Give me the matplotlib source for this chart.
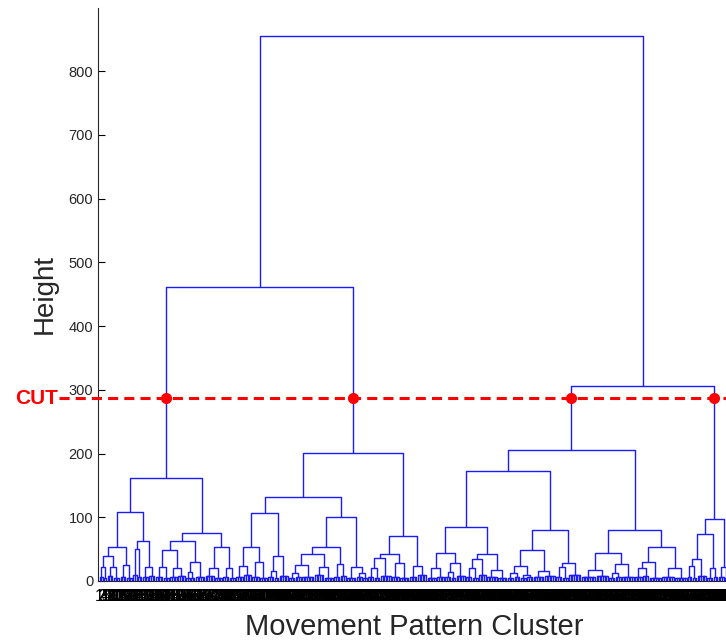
import matplotlib
matplotlib.use("Agg")
import matplotlib.pyplot as plt
from matplotlib.collections import LineCollection

plt.rcParams['font.family'] = ['Liberation Sans', 'DejaVu Sans']

# leaf bundles: (merge height, number of leaves) -- tiny merges near the bottom
# typed tree nodes: [height, left, right]
b1 = [22, (6, 3), (4, 2)]
b2 = [22, (8, 4), (5, 4)]
b3 = [25, (7, 4), (5, 4)]
b4 = [50, (9, 3), (6, 3)]
b5 = [22, (6, 4), (8, 4)]
b6 = [22, (7, 5), (5, 4)]
b7 = [20, (6, 5), (8, 5)]
b8 = [30, [14, (5, 3), (4, 3)], (7, 6)]
b9 = [20, (8, 6), (5, 5)]
b10 = [20, (6, 4), (4, 4)]
b11 = [24, (7, 5), (9, 5)]
b12 = [30, (6, 5), (5, 5)]
b13 = [39, [16, (6, 4), (4, 3)], (8, 6)]
b14 = [25, [12, (5, 4), (7, 4)], (6, 8)]
b15 = [22, (9, 6), (5, 6)]
b16 = [27, (6, 4), (8, 4)]
b17 = [22, (5, 6), [12, (7, 4), (4, 3)]]
b18 = [36, [20, (6, 4), (5, 4)], (8, 7)]
b19 = [28, (7, 5), (5, 6)]
b20 = [23, (6, 5), (9, 6)]
b21 = [20, (5, 6), (7, 5)]
b22 = [28, [14, (6, 4), (4, 3)], (8, 6)]
b23 = [35, [21, (6, 4), (5, 4)], (9, 5)]
b24 = [17, (7, 7), (5, 6)]
b25 = [23, [12, (5, 4), (7, 4)], [10, (4, 4), (6, 4)]]
b26 = [15, (6, 7), (8, 7)]
b27 = [29, [22, (6, 4), (5, 4)], (9, 8)]
b28 = [17, (6, 9), (8, 8)]
b29 = [27, [13, (5, 4), (7, 4)], (6, 8)]
b30 = [30, [21, (6, 5), (8, 4)], (5, 8)]
b31 = [21, (7, 8), (5, 8)]
b32 = [34, [23, (6, 3), (5, 3)], (8, 6)]
b33 = [21, (5, 4), (7, 3)]
b34 = [22, (6, 4), (4, 3)]

cluster_a = [162, [108, [53, [39, b1, b2], b3], [63, b4, b5]],
             [76, [63, [49, b6, b7], b8], [53, b9, b10]]]
cluster_b = [201, [132, [107, [54, b11, b12], b13], [101, [53, [43, b14, b15], b16], b17]],
             [70, [42, b18, b19], b20]]
cluster_c = [206, [173, [84, [44, b21, b22], [42, b23, b24]], [80, [49, b25, b26], b27]],
             [80, [44, b28, b29], [54, b30, b31]]]
cluster_d = [97, [74, b32, b33], b34]
tree = [855, [462, cluster_a, cluster_b], [306, cluster_c, cluster_d]]

cut_height = 287

segments = []
cut_x = []
leaf_ids = []


def draw(node, parent_h):
    # returns (x, y) of the node's top
    if isinstance(node, tuple):
        h, n = node
        return draw_bundle(h, n, parent_h)
    h, left, right = node
    x1, y1 = draw(left, h)
    x2, y2 = draw(right, h)
    segments.append([(x1, y1), (x1, h), (x2, h), (x2, y2)])
    x = (x1 + x2) / 2
    if h < cut_height < parent_h:
        cut_x.append(x)
    return x, h


def draw_bundle(h, n, parent_h):
    if n == 1:
        leaf_ids.append(len(leaf_ids) + 1)
        return float(len(leaf_ids)), 0.0
    x1, y1 = draw_bundle(h, n // 2, h)
    x2, y2 = draw_bundle(h, n - n // 2, h)
    segments.append([(x1, y1), (x1, h), (x2, h), (x2, y2)])
    return (x1 + x2) / 2, h


draw(tree, 1e9)
n_leaves = len(leaf_ids)

fig = plt.figure(figsize=(7.26, 6.41), dpi=100)
ax = fig.add_axes([98 / 726, 60 / 641, 632 / 726, 573 / 641])

ax.add_collection(LineCollection(segments, colors="#1a1aff", linewidths=1.0))
ax.set_xlim(0, n_leaves + 1)
ax.set_ylim(0, 899)

# cut line
ax.plot([-24, n_leaves + 10], [cut_height, cut_height], color="#ff0000", lw=2.2,
        dashes=(3.3, 2.0), clip_on=False, zorder=3)
ax.plot(cut_x, [cut_height] * len(cut_x), "o", color="#ff0000", ms=7, zorder=4, clip_on=False)
ax.text(-25, cut_height, "CUT", color="#ff0000", fontsize=15, fontweight="bold",
        ha="right", va="center")

ax.set_yticks(range(0, 900, 100))
ax.tick_params(axis="y", direction="in", length=5, labelsize=10.5, labelcolor="#262626")
ax.set_xticks(range(1, n_leaves + 1))
ax.set_xticklabels([str(i) for i in leaf_ids], fontsize=11.5, color="black")
ax.tick_params(axis="x", length=0, pad=6)

for side in ["top", "right"]:
    ax.spines[side].set_visible(False)
ax.spines["left"].set_color("#262626")
ax.spines["bottom"].set_color("#262626")

ax.set_ylabel("Height", fontsize=20, color="#262626", labelpad=8)
ax.set_xlabel("Movement Pattern Cluster", fontsize=21, color="#262626", labelpad=6.5)

fig.savefig("out.png", dpi=100)
